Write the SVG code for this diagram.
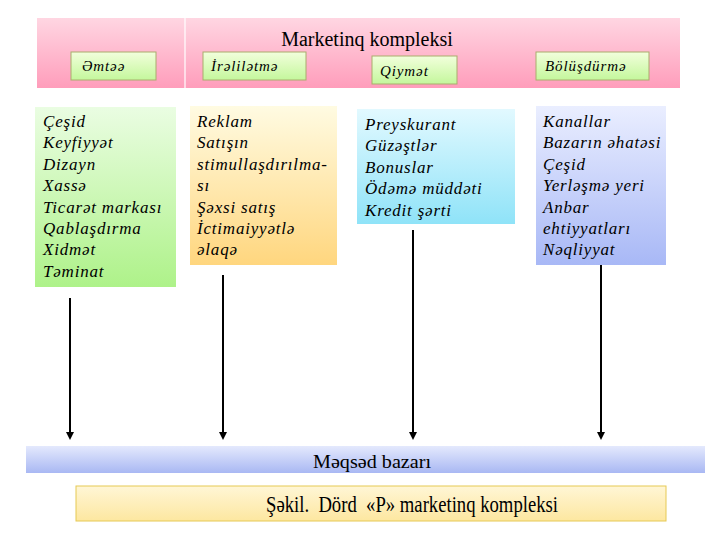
<svg xmlns="http://www.w3.org/2000/svg" width="720" height="540" viewBox="0 0 720 540">
<defs>
<linearGradient id="gPink" x1="0" y1="0" x2="0" y2="1"><stop offset="0" stop-color="#ffd6e2"/><stop offset="1" stop-color="#ff9dbb"/></linearGradient>
<linearGradient id="gTab" x1="0" y1="0" x2="0" y2="1"><stop offset="0" stop-color="#f2ffdc"/><stop offset="1" stop-color="#c4f79c"/></linearGradient>
<linearGradient id="gGreen" x1="0" y1="0" x2="0" y2="1"><stop offset="0" stop-color="#eafde2"/><stop offset="1" stop-color="#aef289"/></linearGradient>
<linearGradient id="gOrange" x1="0" y1="0" x2="0" y2="1"><stop offset="0" stop-color="#fffbe2"/><stop offset="1" stop-color="#ffd67e"/></linearGradient>
<linearGradient id="gCyan" x1="0" y1="0" x2="0" y2="1"><stop offset="0" stop-color="#e2f9ff"/><stop offset="1" stop-color="#8fe3f8"/></linearGradient>
<linearGradient id="gBlue" x1="0" y1="0" x2="0" y2="1"><stop offset="0" stop-color="#eaeeff"/><stop offset="1" stop-color="#a8b8f6"/></linearGradient>
<linearGradient id="gBand" x1="0" y1="0" x2="0" y2="1"><stop offset="0" stop-color="#e4e9fd"/><stop offset="1" stop-color="#a9b8f3"/></linearGradient>
<linearGradient id="gCap" x1="0" y1="0" x2="0" y2="1"><stop offset="0" stop-color="#fff6d6"/><stop offset="1" stop-color="#fde7a0"/></linearGradient>
<marker id="arr" markerWidth="8" markerHeight="8" refX="4" refY="4" orient="auto" markerUnits="userSpaceOnUse"><path d="M0,0 L8,4 L0,8 z" fill="#000"/></marker>
</defs>
<style>
.tab{fill:url(#gTab);stroke:#a9ad6c;stroke-width:1}
.con{stroke:#000;stroke-width:2;fill:none;marker-end:url(#arr)}
</style>
<rect width="720" height="540" fill="#fff"/>
<g id="header">
<rect x="37" y="18" width="643" height="70" fill="url(#gPink)"/>
<line x1="185" y1="18" x2="185" y2="88" stroke="#fff" stroke-width="1.2"/>
<text x="367" y="46" text-anchor="middle" font-family="Liberation Serif, serif" font-size="20">Marketinq kompleksi</text>
</g>
<g id="tab-product"><rect class="tab" x="71" y="52" width="85" height="28"/><text font-family="Liberation Serif, serif" font-style="italic" font-size="15" letter-spacing="0.9" x="82" y="71">Əmtəə</text></g>
<g id="tab-promotion"><rect class="tab" x="203" y="52" width="103" height="28"/><text font-family="Liberation Serif, serif" font-style="italic" font-size="15" letter-spacing="0.9" x="211" y="71">İrəlilətmə</text></g>
<g id="tab-price"><rect class="tab" x="372" y="56" width="85" height="28"/><text font-family="Liberation Serif, serif" font-style="italic" font-size="15" letter-spacing="0.9" x="380" y="76">Qiymət</text></g>
<g id="tab-place"><rect class="tab" x="536" y="52" width="113" height="28"/><text font-family="Liberation Serif, serif" font-style="italic" font-size="15" letter-spacing="0.9" x="545" y="71">Bölüşdürmə</text></g>
<g id="box-product">
<rect x="35" y="107" width="141" height="180" fill="url(#gGreen)"/>
<text font-family="Liberation Serif, serif" font-style="italic" font-size="17" letter-spacing="0.8" x="43" y="127">Çeşid<tspan x="43" dy="21.4">Keyfiyyət</tspan><tspan x="43" dy="21.4">Dizayn</tspan><tspan x="43" dy="21.4">Xassə</tspan><tspan x="43" dy="21.4">Ticarət markası</tspan><tspan x="43" dy="21.4">Qablaşdırma</tspan><tspan x="43" dy="21.4">Xidmət</tspan><tspan x="43" dy="21.4">Təminat</tspan></text>
</g>
<g id="box-promotion">
<rect x="190" y="106" width="147" height="159" fill="url(#gOrange)"/>
<text font-family="Liberation Serif, serif" font-style="italic" font-size="17" letter-spacing="0.8" x="197" y="127">Reklam<tspan x="197" dy="21.4">Satışın</tspan><tspan x="197" dy="21.4">stimullaşdırılma-</tspan><tspan x="197" dy="21.4">sı</tspan><tspan x="197" dy="21.4">Şəxsi satış</tspan><tspan x="197" dy="21.4">İctimaiyyətlə</tspan><tspan x="197" dy="21.4">əlaqə</tspan></text>
</g>
<g id="box-price">
<rect x="357" y="109" width="158" height="115" fill="url(#gCyan)"/>
<text font-family="Liberation Serif, serif" font-style="italic" font-size="17" letter-spacing="0.8" x="365" y="130">Preyskurant<tspan x="365" dy="21.4">Güzəştlər</tspan><tspan x="365" dy="21.4">Bonuslar</tspan><tspan x="365" dy="21.4">Ödəmə müddəti</tspan><tspan x="365" dy="21.4">Kredit şərti</tspan></text>
</g>
<g id="box-place">
<rect x="536" y="106" width="130" height="159" fill="url(#gBlue)"/>
<text font-family="Liberation Serif, serif" font-style="italic" font-size="17" letter-spacing="0.8" x="543" y="127">Kanallar<tspan x="543" dy="21.4">Bazarın əhatəsi</tspan><tspan x="543" dy="21.4">Çeşid</tspan><tspan x="543" dy="21.4">Yerləşmə yeri</tspan><tspan x="543" dy="21.4">Anbar</tspan><tspan x="543" dy="21.4">ehtiyyatları</tspan><tspan x="543" dy="21.4">Nəqliyyat</tspan></text>
</g>
<g id="connectors">
<line class="con" x1="70" y1="298" x2="70" y2="436"/>
<line class="con" x1="223" y1="275" x2="223" y2="436"/>
<line class="con" x1="413" y1="230" x2="413" y2="436"/>
<line class="con" x1="601" y1="265" x2="601" y2="436"/>
</g>
<g id="target-market">
<rect x="26" y="446" width="679" height="27" fill="url(#gBand)"/>
<text x="313" y="468" font-family="Liberation Serif, serif" font-size="18" textLength="118" lengthAdjust="spacingAndGlyphs">Məqsəd bazarı</text>
</g>
<g id="caption">
<rect x="76" y="486" width="590" height="35" fill="url(#gCap)" stroke="#e6c955" stroke-width="1"/>
<text x="266" y="512" font-family="Liberation Serif, serif" font-size="24" textLength="292" lengthAdjust="spacingAndGlyphs" xml:space="preserve">Şəkil.  Dörd  «P» marketinq kompleksi</text>
</g>
</svg>
